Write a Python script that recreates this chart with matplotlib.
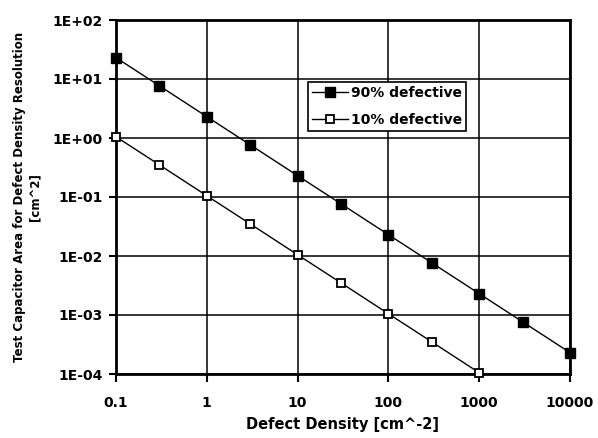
import matplotlib
matplotlib.use("Agg")
import matplotlib.pyplot as plt
from matplotlib.ticker import FixedLocator, FixedFormatter, NullLocator

plt.rcParams['font.family'] = ['DejaVu Sans']

density_90 = [0.1, 0.3, 1, 3, 10, 30, 100, 300, 1000, 3000, 10000]
area_90 = [23.0, 7.68, 2.30, 0.768, 0.230, 0.0768, 0.0230, 0.00768, 0.00230, 0.000768, 0.000230]
density_10 = [0.1, 0.3, 1, 3, 10, 30, 100, 300, 1000]
area_10 = [1.05, 0.351, 0.105, 0.0351, 0.0105, 0.00351, 0.00105, 0.000351, 0.000105]

x_ticks = [0.1, 1, 10, 100, 1000, 10000]
x_labels = ["0.1", "1", "10", "100", "1000", "10000"]
y_ticks = [1e-4, 1e-3, 1e-2, 1e-1, 1, 10, 100]
y_labels = ["1E-04", "1E-03", "1E-02", "1E-01", "1E+00", "1E+01", "1E+02"]

fig = plt.figure(figsize=(5.98, 4.38), dpi=100)
ax = fig.add_axes([116/598, 64/438, 454/598, 354/438])
ax.set_xscale('log')
ax.set_yscale('log')
ax.set_xlim(0.1, 10000)
ax.set_ylim(1e-4, 100)

ax.plot(density_90, area_90, color='black', lw=1, marker='s', ms=7,
        mfc='black', mec='black', label='90% defective', zorder=3, clip_on=False)
ax.plot(density_10, area_10, color='black', lw=1, marker='s', ms=6,
        mfc='white', mec='black', mew=1.3, label='10% defective', zorder=3, clip_on=False)

ax.xaxis.set_major_locator(FixedLocator(x_ticks))
ax.xaxis.set_major_formatter(FixedFormatter(x_labels))
ax.yaxis.set_major_locator(FixedLocator(y_ticks))
ax.yaxis.set_major_formatter(FixedFormatter(y_labels))
ax.xaxis.set_minor_locator(NullLocator())
ax.yaxis.set_minor_locator(NullLocator())

ax.grid(True, which='major', color='black', lw=1.1)
for s in ax.spines.values():
    s.set_linewidth(2)
    s.set_color('black')
ax.tick_params(axis='x', which='major', labelsize=10, direction='out',
               length=6, width=1.5, pad=10)
ax.tick_params(axis='y', which='major', labelsize=10, direction='out',
               length=5, width=1.5, pad=4.5)
for lab in ax.get_xticklabels() + ax.get_yticklabels():
    lab.set_fontweight('bold')

ax.set_xlabel('Defect Density [cm^-2]', fontsize=10.5, fontweight='bold', labelpad=5)
ax.set_ylabel('Test Capacitor Area for Defect Density Resolution\n[cm^2]',
              fontsize=8.5, fontweight='bold', labelpad=8, linespacing=1.25)

leg = ax.legend(loc='upper left', bbox_to_anchor=(0.423, 0.825), frameon=True,
                fancybox=False, edgecolor='black', framealpha=1,
                prop={'weight': 'bold', 'size': 10}, handlelength=2.6,
                handletextpad=0.2, borderpad=0.3, labelspacing=0.9,
                borderaxespad=0)
leg.get_frame().set_linewidth(1.2)

fig.savefig('out.png', dpi=100)
